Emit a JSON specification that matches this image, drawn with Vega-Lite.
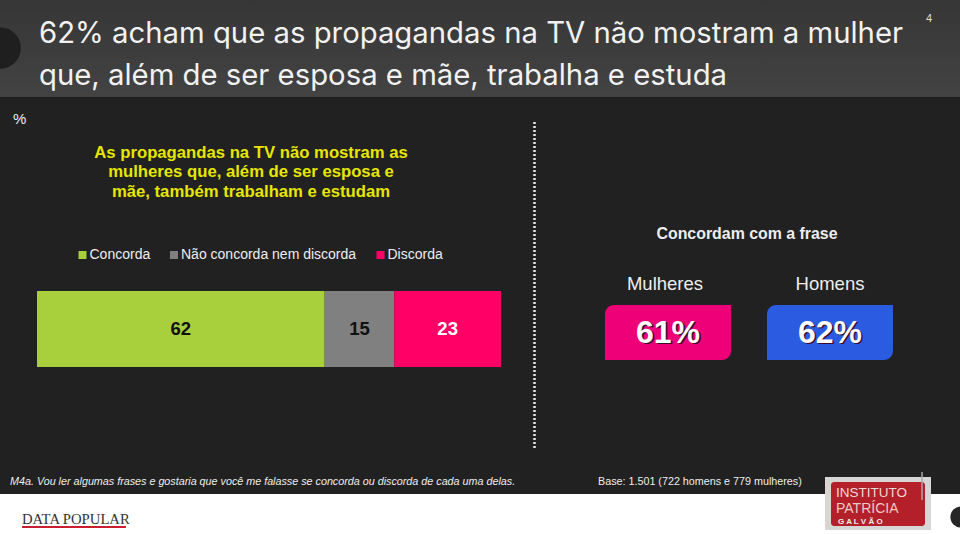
{"$schema":"https://vega.github.io/schema/vega-lite/v6.json","width":960,"height":534,"padding":0,"autosize":{"type":"fit","contains":"padding"},"background":"#ffffff","config":{"view":{"stroke":null},"font":"Liberation Sans"},
"data":{"values":[{"slide":4}]},
"datasets":{"resposta":[{"questao":"TV","resposta":"Concorda","valor":62,"ordem":1},{"questao":"TV","resposta":"Não concorda nem discorda","valor":15,"ordem":2},{"questao":"TV","resposta":"Discorda","valor":23,"ordem":3}],
"sexo":[{"grupo":"Mulheres","concordam":0.61},{"grupo":"Homens","concordam":0.62}]},
"resolve":{"scale":{"x":"independent","y":"independent","color":"independent"}},
"layer":[
{"mark":{"type":"rect","fill":"#212121"},"encoding":{"x":{"value":0},"x2":{"value":960},"y":{"value":97},"y2":{"value":494}}},
{"mark":{"type":"rect","fill":{"gradient":"linear","x1":0,"y1":0,"x2":0,"y2":1,"stops":[{"offset":0,"color":"#363636"},{"offset":1,"color":"#434343"}]}},"encoding":{"x":{"value":0},"x2":{"value":960},"y":{"value":0},"y2":{"value":97}}},
{"mark":{"type":"point","filled":true,"fill":"#1f1f1f","size":1735,"opacity":1,"clip":true},"encoding":{"x":{"value":0},"y":{"value":48}}},
{"mark":{"type":"point","filled":true,"fill":"#262626","size":452,"opacity":1,"clip":true},"encoding":{"x":{"value":961},"y":{"value":517}}},
{"mark":{"type":"text","text":["62% acham que as propagandas na TV não mostram a mulher"],"font":"Inter","fontSize":29.3,"fill":"#f2f2f2","align":"left","baseline":"alphabetic"},"encoding":{"x":{"value":39},"y":{"value":43}}},
{"mark":{"type":"text","text":["que, além de ser esposa e mãe, trabalha e estuda"],"font":"Inter","fontSize":29.3,"fill":"#f2f2f2","align":"left","baseline":"alphabetic"},"encoding":{"x":{"value":39},"y":{"value":85}}},
{"mark":{"type":"text","text":"4","fontSize":11,"fill":"#dddddd","align":"center","baseline":"alphabetic"},"encoding":{"x":{"value":929},"y":{"value":22}}},
{"mark":{"type":"text","text":"%","fontSize":15,"fill":"#eeeeee","align":"left","baseline":"alphabetic"},"encoding":{"x":{"value":13},"y":{"value":124}}},
{"mark":{"type":"text","text":["As propagandas na TV não mostram as","mulheres que, além de ser esposa e","mãe, também trabalham e estudam"],"fontSize":16.7,"fontWeight":"bold","lineHeight":19.5,"fill":"#e6e600","align":"center","baseline":"alphabetic"},"encoding":{"x":{"value":251},"y":{"value":157.5}}},
{"mark":{"type":"rule","stroke":"#e8e8e8","strokeWidth":2.5,"strokeDash":[2,2]},"encoding":{"x":{"value":534.5},"y":{"value":122},"y2":{"value":448}}},
{"data":{"name":"resposta"},"layer":[
{"mark":{"type":"bar"},"encoding":{"x":{"field":"valor","type":"quantitative","stack":"zero","axis":null,"scale":{"domain":[0,100],"range":[37,501],"nice":false}},"y":{"field":"questao","type":"nominal","axis":null,"scale":{"range":[291,367],"paddingInner":0,"paddingOuter":0}},"order":{"field":"ordem"},"color":{"field":"resposta","type":"nominal","scale":{"domain":["Concorda","Não concorda nem discorda","Discorda"],"range":["#a8cf3c","#808080","#ff0066"]},"legend":{"title":null,"orient":"none","legendX":75.5,"legendY":248,"direction":"horizontal","symbolType":"square","symbolSize":64,"symbolStrokeWidth":0,"symbolOpacity":1,"labelFontSize":14,"labelColor":"#eeeeee","labelFont":"Liberation Sans","labelLimit":300,"columnPadding":16.5,"labelOffset":0}}}},
{"mark":{"type":"text","fontSize":18.5,"fontWeight":"bold"},"encoding":{"x":{"field":"valor","type":"quantitative","stack":"zero","bandPosition":0.5},"y":{"field":"questao","type":"nominal"},"order":{"field":"ordem"},"detail":{"field":"resposta"},"text":{"field":"valor","type":"quantitative"},"fill":{"condition":{"test":"datum.resposta==='Discorda'","value":"#ffffff"},"value":"#111111"}}}
]},
{"data":{"name":"sexo"},"layer":[
{"mark":{"type":"bar","cornerRadiusTopLeft":9,"cornerRadiusBottomRight":9},"encoding":{"x":{"field":"grupo","type":"nominal","sort":null,"axis":null,"scale":{"domain":["Mulheres","Homens"],"range":[605,893],"paddingInner":0.222,"paddingOuter":0}},"y":{"datum":"cartao","type":"nominal","axis":null,"scale":{"range":[305,360],"paddingInner":0,"paddingOuter":0}},"color":{"field":"grupo","type":"nominal","legend":null,"scale":{"domain":["Mulheres","Homens"],"range":["#ee0078","#2a5be0"]}}}},
{"mark":{"type":"text","fontSize":32,"fontWeight":"bold","fill":"#3a0a2a","dx":1.5,"dy":1.5},"encoding":{"x":{"field":"grupo","type":"nominal","sort":null},"y":{"datum":"cartao","type":"nominal"},"text":{"field":"concordam","type":"quantitative","format":".0%"}}},
{"mark":{"type":"text","fontSize":32,"fontWeight":"bold","fill":"#ffffff"},"encoding":{"x":{"field":"grupo","type":"nominal","sort":null},"y":{"datum":"cartao","type":"nominal"},"text":{"field":"concordam","type":"quantitative","format":".0%"}}},
{"transform":[{"filter":"datum.grupo==='Mulheres'"}],"mark":{"type":"text","fontSize":18.5,"fill":"#eeeeee","dy":-49,"dx":-3},"encoding":{"x":{"field":"grupo","type":"nominal","sort":null},"y":{"datum":"cartao","type":"nominal"},"text":{"field":"grupo","type":"nominal"}}},
{"transform":[{"filter":"datum.grupo==='Homens'"}],"mark":{"type":"text","fontSize":18.5,"fill":"#eeeeee","dy":-49},"encoding":{"x":{"field":"grupo","type":"nominal","sort":null},"y":{"datum":"cartao","type":"nominal"},"text":{"field":"grupo","type":"nominal"}}}
]},
{"mark":{"type":"text","text":"Concordam com a frase","fontSize":15.9,"fontWeight":"bold","fill":"#eeeeee","align":"center","baseline":"alphabetic"},"encoding":{"x":{"value":747},"y":{"value":239}}},
{"mark":{"type":"text","text":"M4a. Vou ler algumas frases e gostaria que você me falasse se concorda ou discorda de cada uma delas.","fontSize":10.75,"fontStyle":"italic","fill":"#eeeeee","align":"left","baseline":"alphabetic"},"encoding":{"x":{"value":10},"y":{"value":485}}},
{"mark":{"type":"text","text":"Base: 1.501 (722 homens e 779 mulheres)","fontSize":10.75,"fill":"#eeeeee","align":"left","baseline":"alphabetic"},"encoding":{"x":{"value":598},"y":{"value":485}}},
{"mark":{"type":"text","text":"DATA POPULAR","font":"Liberation Serif","fontSize":14.7,"fill":"#333333","align":"left","baseline":"alphabetic"},"encoding":{"x":{"value":22},"y":{"value":524}}},
{"mark":{"type":"rule","stroke":"#c8202f","strokeWidth":2},"encoding":{"x":{"value":22},"x2":{"value":126},"y":{"value":527}}},
{"mark":{"type":"rect","fill":"#d6d6d4"},"encoding":{"x":{"value":825},"x2":{"value":931},"y":{"value":477},"y2":{"value":530}}},
{"mark":{"type":"rect","fill":"#b3202a","cornerRadius":3},"encoding":{"x":{"value":831},"x2":{"value":925},"y":{"value":482},"y2":{"value":526}}},
{"mark":{"type":"rule","stroke":"#a8a8a8","strokeWidth":1.5},"encoding":{"x":{"value":922},"y":{"value":472},"y2":{"value":500}}},
{"mark":{"type":"text","text":"INSTITUTO","fontSize":13.5,"fill":"#f0d8d8","align":"left","baseline":"alphabetic"},"encoding":{"x":{"value":836},"y":{"value":497}}},
{"mark":{"type":"text","text":"PATRÍCIA","fontSize":14,"fill":"#f0c8c8","align":"left","baseline":"alphabetic"},"encoding":{"x":{"value":836},"y":{"value":513}}},
{"mark":{"type":"text","text":"G A L V Ã O","fontSize":8,"fontWeight":"bold","fill":"#eeeeee","align":"left","baseline":"alphabetic"},"encoding":{"x":{"value":838},"y":{"value":524}}}
]}
